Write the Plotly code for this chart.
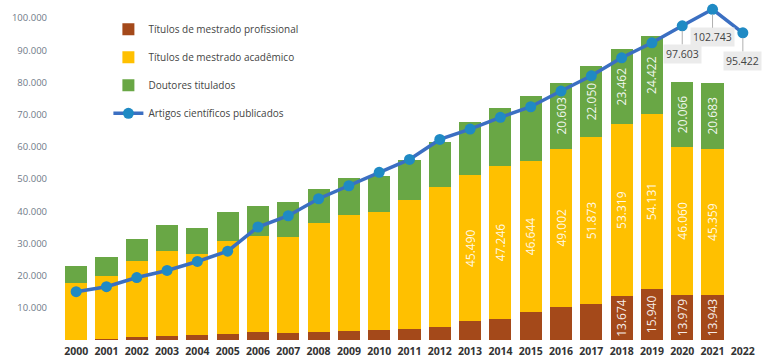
import plotly.graph_objects as go

years = [str(y) for y in range(2000, 2023)]
bar_years = years[:-1]

mestrado_prof = [0, 200, 860, 1330, 1540, 1850, 2460, 2050, 2360, 2870, 3080, 3480, 4100,
                 5750, 6670, 8820, 10350, 11180, 13674, 15940, 13979, 13943]
mestrado_acad = [17600, 19800, 23670, 26400, 25260, 28900, 29840, 29850, 33880, 35950, 36570, 40000, 43320,
                 45490, 47246, 46644, 49002, 51873, 53319, 54131, 46060, 45359]
doutores = [5400, 5900, 6740, 8070, 7980, 9000, 9400, 11050, 10760, 11580, 11380, 12320, 14170,
            16460, 18040, 20320, 20603, 22050, 23462, 24422, 20066, 20683]
artigos = [15000, 16550, 19400, 21600, 24400, 27600, 35100, 38600, 43880, 47920, 52080, 56110, 62300,
           65530, 69160, 72460, 77330, 82080, 87670, 92330, 97603, 102743, 95422]

prof_label_from = "2018"
acad_label_from = "2013"
dout_label_from = "2016"
artigos_label_years = ["2020", "2021", "2022"]

y_ticks = list(range(10000, 100001, 10000))


def fmt(v):
    return f"{v:,}".replace(",", ".")


def labels(vals, start):
    return [fmt(v) if int(y) >= int(start) else "" for y, v in zip(bar_years, vals)]


FONT = "Open Sans"
fig = go.Figure()

bar_common = dict(textposition="inside", insidetextanchor="middle", textangle=-90,
                  textfont=dict(family=FONT, size=12, color="rgba(255,255,255,0.92)"),
                  marker_line_width=0, cliponaxis=False)

fig.add_trace(go.Bar(x=bar_years, y=mestrado_prof, name="Títulos de mestrado profissional",
                     marker_color="#a4491a", text=labels(mestrado_prof, prof_label_from),
                     legendgroup="a", legendrank=1, **bar_common))
fig.add_trace(go.Bar(x=bar_years, y=mestrado_acad, name="Títulos de mestrado acadêmico",
                     marker_color="#ffc000", text=labels(mestrado_acad, acad_label_from),
                     legendgroup="b", legendrank=2, **bar_common))
fig.add_trace(go.Bar(x=bar_years, y=doutores, name="Doutores titulados",
                     marker_color="#69a745", text=labels(doutores, dout_label_from),
                     legendgroup="c", legendrank=3, **bar_common))
fig.add_trace(go.Scatter(x=years, y=artigos, name="Artigos científicos publicados",
                         mode="lines+markers", line=dict(color="#3b6fc2", width=3.5),
                         marker=dict(color="#1f8ac4", size=11),
                         legendgroup="d", legendrank=4, cliponaxis=False))

for yr in artigos_label_years:
    i = years.index(yr)
    v = artigos[i]
    fig.add_annotation(x=i, y=v, xref="x", yref="y", text=fmt(v), showarrow=True,
                       arrowhead=0, arrowwidth=1, arrowcolor="#b0b0b0", ax=0, ay=28, standoff=5,
                       bgcolor="#ebebeb", borderpad=2,
                       font=dict(family=FONT, size=10.5, color="#444"))

fig.update_layout(
    width=766, height=361,
    margin=dict(l=61, r=8, t=2, b=21),
    paper_bgcolor="white", plot_bgcolor="white",
    barmode="stack", bargap=0.27,
    showlegend=True,
    legend=dict(x=0.068, y=0.962, xanchor="left", yanchor="top",
                font=dict(family=FONT, size=10, color="#444"),
                tracegroupgap=9, traceorder="grouped", bgcolor="rgba(0,0,0,0)"),
    uniformtext=dict(minsize=12, mode="show"),
    font=dict(family=FONT),
)
fig.update_xaxes(type="category", categoryorder="array", categoryarray=years,
                 range=[-0.5, 22.5], showgrid=False, showline=False, ticks="",
                 ticklabelstandoff=3,
                 tickfont=dict(family=FONT, size=10.5, color="#333", weight="bold"))
fig.update_yaxes(range=[0, 105000], showgrid=False, zeroline=False, showline=False,
                 tickvals=y_ticks, ticktext=[fmt(v) for v in y_ticks], ticks="",
                 ticklabelstandoff=13,
                 tickfont=dict(family=FONT, size=9.5, color="#6f7a88"))

fig.write_html("out.html", config={"displayModeBar": False},
               post_script="document.body.style.margin='0px';")
